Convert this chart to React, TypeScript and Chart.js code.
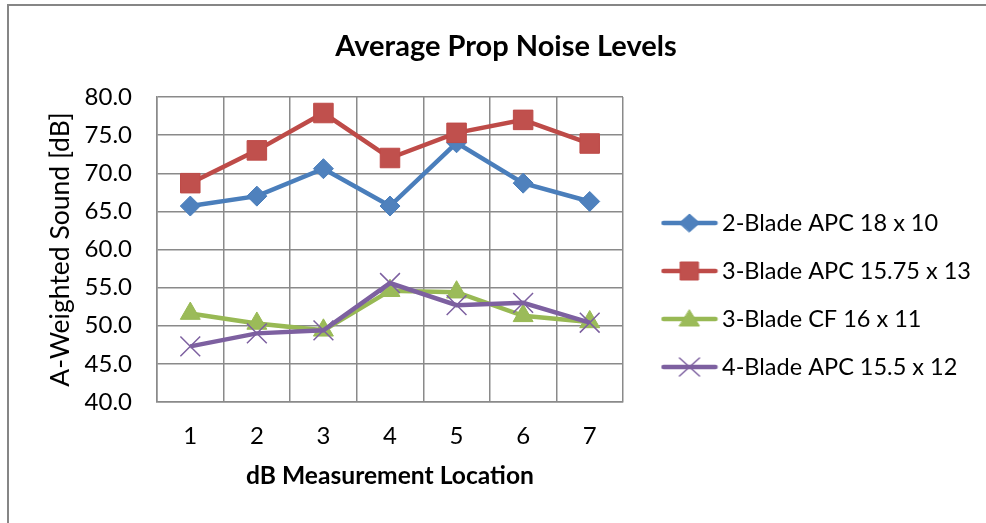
import React, { useEffect, useRef } from 'react';
import { Chart, registerables } from 'chart.js';

Chart.register(...registerables);

// ---------- data ----------
const CHART_TITLE = 'Average Prop Noise Levels';
const X_TITLE = 'dB Measurement Location';
const Y_TITLE = 'A-Weighted Sound [dB]';
const LOCATIONS = ['1', '2', '3', '4', '5', '6', '7'];
const SERIES_NAMES = [
  '2-Blade APC 18 x 10',
  '3-Blade APC 15.75 x 13',
  '3-Blade CF 16 x 11',
  '4-Blade APC 15.5 x 12',
];
const BLADE2_APC_18X10 = [65.7, 67.0, 70.6, 65.7, 74.0, 68.7, 66.3];
const BLADE3_APC_1575X13 = [68.7, 73.0, 77.9, 72.0, 75.3, 77.0, 73.9];
const BLADE3_CF_16X11 = [51.6, 50.3, 49.4, 54.6, 54.4, 51.3, 50.5];
const BLADE4_APC_155X12 = [47.3, 49.0, 49.4, 55.6, 52.7, 53.0, 50.4];
const Y_MIN = 40;
const Y_MAX = 80;
const Y_STEP = 5;

// ---------- styles ----------
const FONT = 'Lato, "Open Sans", sans-serif';
const GRID = '#8a8a8a';
const STYLES = [
  { line: '#4A7EBB', fill: '#4F81BD', border: '#4A7EBB', shape: 'rectRot', radius: 10, bw: 1 },
  { line: '#BE4B48', fill: '#C0504D', border: '#BE4B48', shape: 'rect', radius: 13.8, bw: 1 },
  { line: '#98B954', fill: '#9BBB59', border: '#98B954', shape: 'triangle', radius: 11.5, bw: 1 },
  { line: '#7D60A0', fill: '#8064A2', border: '#7D60A0', shape: 'crossRot', radius: 14, bw: 1.5 },
];
const SERIES = [BLADE2_APC_18X10, BLADE3_APC_1575X13, BLADE3_CF_16X11, BLADE4_APC_155X12];

// legend geometry
const LEG_FONT = 23.5;
const LEG_GAP = 48;
const LEG_LINE_CENTER = 689.5;
const LEG_TEXT_START = 722;
const LEG_FIRST_Y = 223;
const LEG_BOX_W = 2 * (LEG_TEXT_START - LEG_LINE_CENTER) - LEG_FONT;
const LEG_PAD = LEG_GAP - LEG_FONT;
const LEG_LEFT = LEG_LINE_CENTER - LEG_BOX_W / 2 - LEG_PAD;
const PLOT_RIGHT = 623;
const CANVAS_W = 986;
const CANVAS_H = 523;

function makeLegendImage(i: number): HTMLCanvasElement {
  const s = STYLES[i];
  const c = document.createElement('canvas');
  c.width = 58;
  c.height = 26;
  const ctx = c.getContext('2d')!;
  const cx = 29;
  const cy = 13;
  ctx.strokeStyle = s.line;
  ctx.lineWidth = 4.5;
  ctx.lineCap = 'round';
  ctx.beginPath();
  ctx.moveTo(3, cy);
  ctx.lineTo(55, cy);
  ctx.stroke();
  ctx.fillStyle = s.fill;
  ctx.strokeStyle = s.border;
  ctx.lineWidth = 1;
  ctx.beginPath();
  if (s.shape === 'rect') {
    ctx.rect(cx - 9, cy - 9, 18, 18);
    ctx.fill();
    ctx.stroke();
  } else if (s.shape === 'rectRot') {
    ctx.moveTo(cx - 10, cy);
    ctx.lineTo(cx, cy - 9);
    ctx.lineTo(cx + 10, cy);
    ctx.lineTo(cx, cy + 9);
    ctx.closePath();
    ctx.fill();
    ctx.stroke();
  } else if (s.shape === 'triangle') {
    ctx.moveTo(cx, cy - 9);
    ctx.lineTo(cx + 10, cy + 7);
    ctx.lineTo(cx - 10, cy + 7);
    ctx.closePath();
    ctx.fill();
    ctx.stroke();
  } else {
    ctx.lineWidth = 1.5;
    ctx.moveTo(cx - 10, cy - 9);
    ctx.lineTo(cx + 10, cy + 9);
    ctx.moveTo(cx + 10, cy - 9);
    ctx.lineTo(cx - 10, cy + 9);
    ctx.stroke();
  }
  return c;
}

const legendPlacer = {
  id: 'legendPlacer',
  beforeLayout(chart: any) {
    const lg = chart.legend;
    if (lg && !lg.__patched) {
      const origFit = lg.fit;
      lg.fit = function (this: any) {
        origFit.call(this);
        this.width = CANVAS_W - PLOT_RIGHT;
      };
      lg.__patched = true;
    }
  },
  afterLayout(chart: any) {
    const lg = chart.legend;
    if (!lg) return;
    const h = lg.bottom - lg.top;
    const w = lg.width;
    lg.left = LEG_LEFT;
    lg.right = LEG_LEFT + w;
    const top = LEG_FIRST_Y - LEG_FONT / 2 - (LEG_PAD + h - SERIES.length * LEG_GAP) / 2;
    lg.top = top;
    lg.bottom = top + h;
  },
};

export default function App() {
  const ref = useRef<HTMLCanvasElement | null>(null);

  useEffect(() => {
    if (!ref.current) return;
    Chart.defaults.font.family = FONT;
    const images = SERIES.map((_, i) => makeLegendImage(i));
    const chart = new Chart(ref.current, {
      type: 'line',
      data: {
        labels: LOCATIONS,
        datasets: SERIES.map((values, i) => ({
          label: SERIES_NAMES[i],
          data: values,
          borderColor: STYLES[i].line,
          backgroundColor: STYLES[i].fill,
          borderWidth: 4.5,
          tension: 0,
          fill: false,
          pointStyle: STYLES[i].shape as any,
          pointRadius: STYLES[i].radius,
          pointBackgroundColor: STYLES[i].fill,
          pointBorderColor: STYLES[i].border,
          pointBorderWidth: STYLES[i].bw,
          order: SERIES.length - 1 - i,
        })),
      },
      options: {
        responsive: false,
        animation: false,
        layout: { padding: { left: 26, right: 0, top: 0, bottom: 0 } },
        plugins: {
          title: {
            display: true,
            text: CHART_TITLE,
            color: '#000',
            font: { size: 29, weight: 'bold', family: FONT },
            padding: { top: 29.6, bottom: 32.6 },
          },
          legend: {
            position: 'right',
            maxWidth: 500,
            labels: {
              usePointStyle: true,
              pointStyleWidth: LEG_BOX_W,
              color: '#000',
              font: { size: LEG_FONT, family: FONT },
              padding: LEG_PAD,
              generateLabels: (ch: any) => {
                const base = Chart.defaults.plugins.legend.labels.generateLabels(ch);
                return base
                  .sort((a: any, b: any) => a.datasetIndex - b.datasetIndex)
                  .map((l: any) => ({ ...l, pointStyle: images[l.datasetIndex] }));
              },
            },
          },
          tooltip: { enabled: false },
        },
        scales: {
          x: {
            type: 'category',
            offset: true,
            grid: { offset: true, color: GRID, lineWidth: 1.5, drawTicks: false },
            border: { color: GRID, width: 1.5 },
            ticks: { color: '#000', font: { size: 24 }, padding: 20, maxRotation: 0 },
            title: {
              display: true,
              text: X_TITLE,
              color: '#000',
              font: { size: 24.6, weight: 'bold' },
              padding: { top: 0, bottom: 32 },
            },
            afterFit: (s: any) => {
              s.height = 121;
            },
          },
          y: {
            min: Y_MIN,
            max: Y_MAX,
            grid: { color: GRID, lineWidth: 1.5, drawTicks: false },
            border: { color: GRID, width: 1.5 },
            ticks: {
              stepSize: Y_STEP,
              color: '#000',
              font: { size: 24 },
              padding: 25,
              callback: (v: any) => Number(v).toFixed(1),
            },
            title: {
              display: true,
              text: Y_TITLE,
              color: '#000',
              font: { size: 26.5 },
              padding: { top: 19, bottom: 0 },
            },
            afterFit: (s: any) => {
              s.width = 131;
            },
          },
        },
      },
      plugins: [legendPlacer],
    } as any);
    return () => chart.destroy();
  }, []);

  return (
    <div style={{ position: 'absolute', left: 0, top: 0, width: CANVAS_W, height: CANVAS_H, background: '#fff' }}>
      <div style={{ position: 'absolute', left: 7, top: 4, width: CANVAS_W - 7, height: 2, background: '#868686' }} />
      <div style={{ position: 'absolute', left: 7, top: 4, width: 2, height: CANVAS_H - 4, background: '#868686' }} />
      <canvas
        ref={ref}
        width={CANVAS_W}
        height={CANVAS_H}
        style={{ position: 'absolute', left: 0, top: 0, width: CANVAS_W, height: CANVAS_H }}
      />
    </div>
  );
}
